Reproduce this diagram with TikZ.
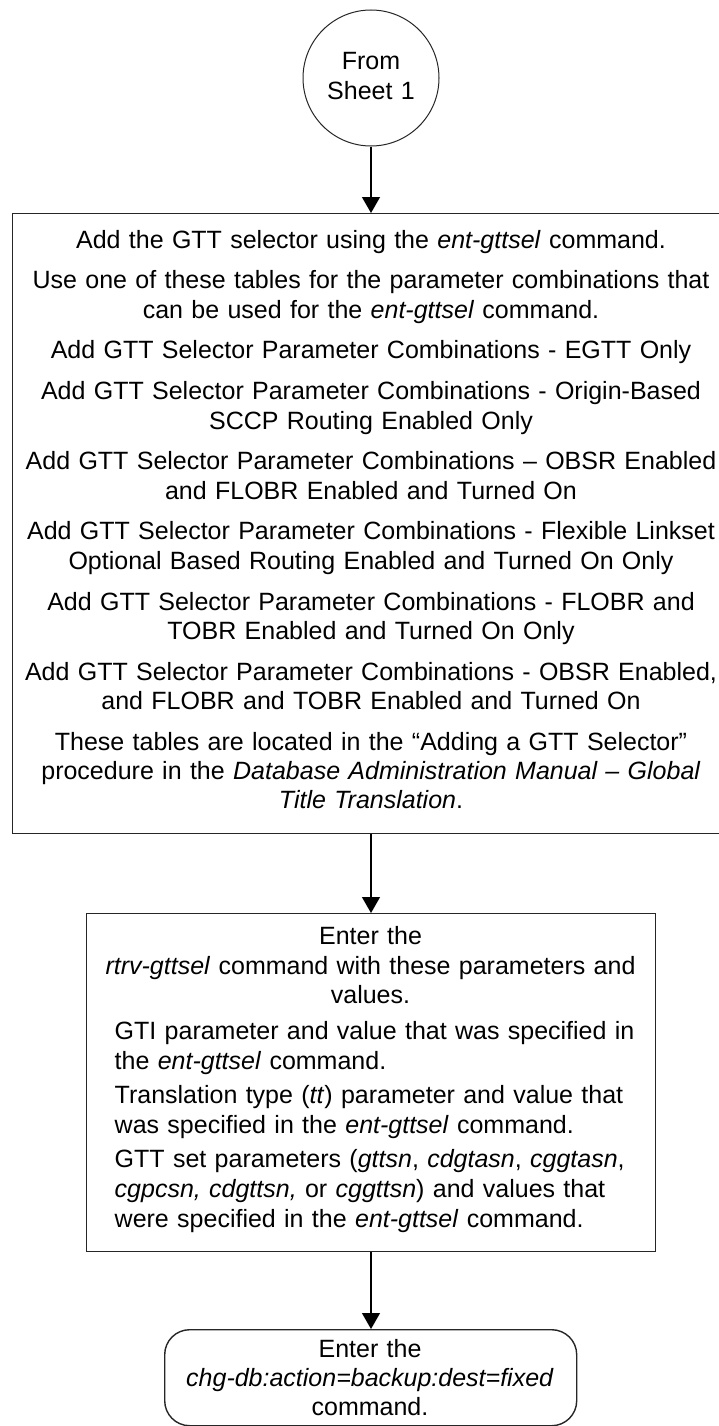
\documentclass[tikz,border=0pt]{standalone}
\usepackage{fontspec}
\setmainfont{Liberation Sans}
\usetikzlibrary{arrows.meta}
\begin{document}
\begin{tikzpicture}[x=1pt,y=-1pt,
  box/.style={draw=black!85,line width=1.4pt,inner sep=0pt,anchor=north west},
  txt/.style={inner sep=0pt,font=\fontsize{25}{29.3}\selectfont},
  flow/.style={line width=1.3pt,-{Triangle[width=18pt,length=16pt]}}]
\useasboundingbox (0,0) rectangle (718,1426);
% start connector
\node[draw=black!85,circle,line width=1pt,minimum size=136pt,inner sep=0pt] (start) at (371,78) {};
\node[txt,text width=130pt,align=center,anchor=base] (starttxt) at (371,70) {From\\Sheet 1};
% big box
\node[box,minimum width=719.5pt,minimum height=620pt] (box1) at (11.5,213) {};
\node[txt,text width=710pt,align=center,anchor=base] (box1txt) at (371,248) {%
Add the GTT selector using the \textit{ent-gttsel} command.\\[11.5pt]
Use one of these tables for the parameter combinations that\\
can be used for the \textit{ent-gttsel} command.\\[11.5pt]
Add GTT Selector Parameter Combinations - EGTT Only\\[11.5pt]
Add GTT Selector Parameter Combinations - Origin-Based\\
SCCP Routing Enabled Only\\[11.5pt]
Add GTT Selector Parameter Combinations – OBSR Enabled\\
and FLOBR Enabled and Turned On\\[11.5pt]
Add GTT Selector Parameter Combinations - Flexible Linkset\\
Optional Based Routing Enabled and Turned On Only\\[11.5pt]
Add GTT Selector Parameter Combinations - FLOBR and\\
TOBR Enabled and Turned On Only\\[11.5pt]
Add GTT Selector Parameter Combinations - OBSR Enabled,\\
and FLOBR and TOBR Enabled and Turned On\\[11.5pt]
These tables are located in the “Adding a GTT Selector”\\
procedure in the \textit{Database Administration Manual – Global}\\
\textit{Title Translation}.};
% second box
\node[box,minimum width=569pt,minimum height=338pt] (box2) at (86,913) {};
\node[txt,text width=560pt,align=center,anchor=base] (box2top) at (370.5,944) {%
Enter the\\[1pt]
\textit{rtrv-gttsel} command with these parameters and\\
values.};
\node[txt,text width=530pt,align=left,anchor=base west,font=\fontsize{25}{30}\selectfont] (box2list) at (114.5,1039) {%
GTI parameter and value that was specified in\\
the \textit{ent-gttsel} command.\\[4pt]
Translation type (\textit{tt}) parameter and value that\\
was specified in the \textit{ent-gttsel} command.\\[4pt]
GTT set parameters (\textit{gttsn}, \textit{cdgtasn}, \textit{cggtasn},\\
\textit{cgpcsn, cdgttsn,} or \textit{cggttsn}) and values that\\
were specified in the \textit{ent-gttsel} command.};
% third box
\node[box,rounded corners=25pt,minimum width=412pt,minimum height=96pt] (box3) at (164,1329) {};
\node[txt,text width=400pt,align=center,anchor=base] (box3txt) at (370,1357) {%
Enter the\\
\textit{chg-db:action=backup:dest=fixed}\\
command.};
% connectors
\draw[flow] (start.south) -- (start.south |- box1.north);
\draw[flow] (start.south |- box1.south) -- (start.south |- box2.north);
\draw[flow] (start.south |- box2.south) -- (start.south |- box3.north);
\end{tikzpicture}
\end{document}
